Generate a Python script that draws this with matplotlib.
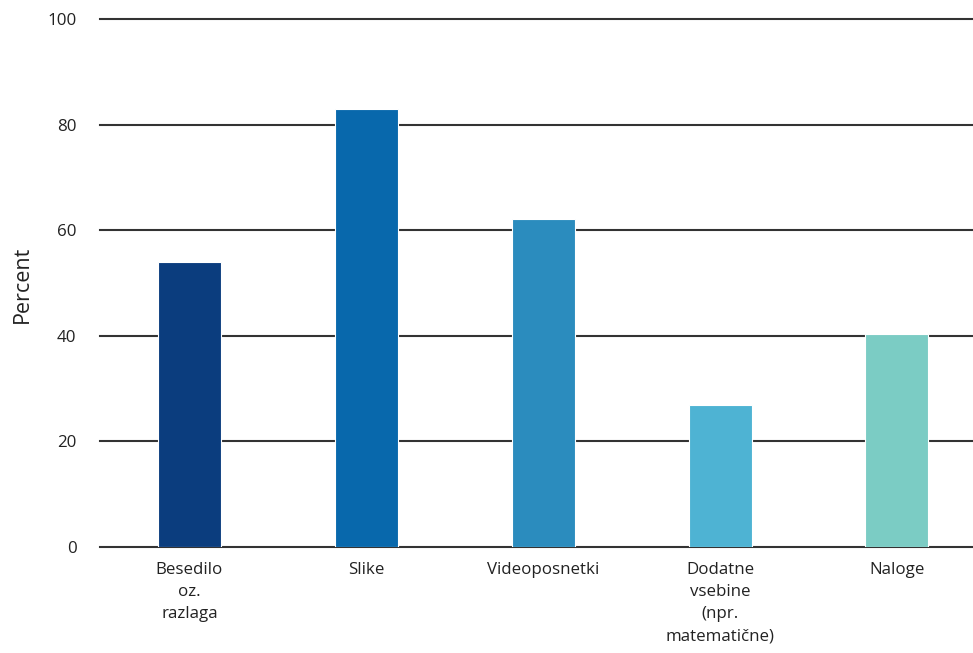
import matplotlib
matplotlib.use("Agg")
import matplotlib.pyplot as plt

categories = ["Besedilo\noz.\nrazlaga", "Slike", "Videoposnetki",
              "Dodatne\nvsebine\n(npr.\nmatematične)", "Naloge"]
percent = [54.0, 83.0, 62.1, 26.9, 40.3]
colors = ["#0b3d7e", "#0868ac", "#2b8cbe", "#4eb3d3", "#7bccc4"]
yticks = [0, 20, 40, 60, 80, 100]

plt.rcParams["font.family"] = ["Open Sans", "DejaVu Sans"]

fig = plt.figure(figsize=(9.73, 6.53), dpi=100)
ax = fig.add_axes([100 / 973, 1 - 547 / 653, 1 - 100 / 973, (547 - 19) / 653])

x = list(range(len(categories)))
ax.bar(x, percent, width=0.356, color=colors, edgecolor="white",
       linewidth=0.8, zorder=3)

ax.set_ylim(0, 100)
ax.set_xlim(-0.506, 4.43)
ax.set_yticks(yticks)
ax.set_xticks(x)
ax.set_xticklabels(categories, linespacing=1.5, color="#222222", fontsize=12.2)
ax.tick_params(axis="both", length=0, colors="#222222", labelsize=12.2)
ax.tick_params(axis="y", pad=17)
ax.tick_params(axis="x", pad=11)

ax.grid(axis="y", color="#333333", linewidth=1.5, zorder=1)
for line in ax.get_ygridlines():
    line.set_clip_on(False)
for s in ax.spines.values():
    s.set_visible(False)

fig.text(22 / 973, 1 - 284 / 653, "Percent", rotation=90, fontsize=15.5,
         color="#222222", ha="center", va="center")

fig.savefig("out.png", dpi=100)
